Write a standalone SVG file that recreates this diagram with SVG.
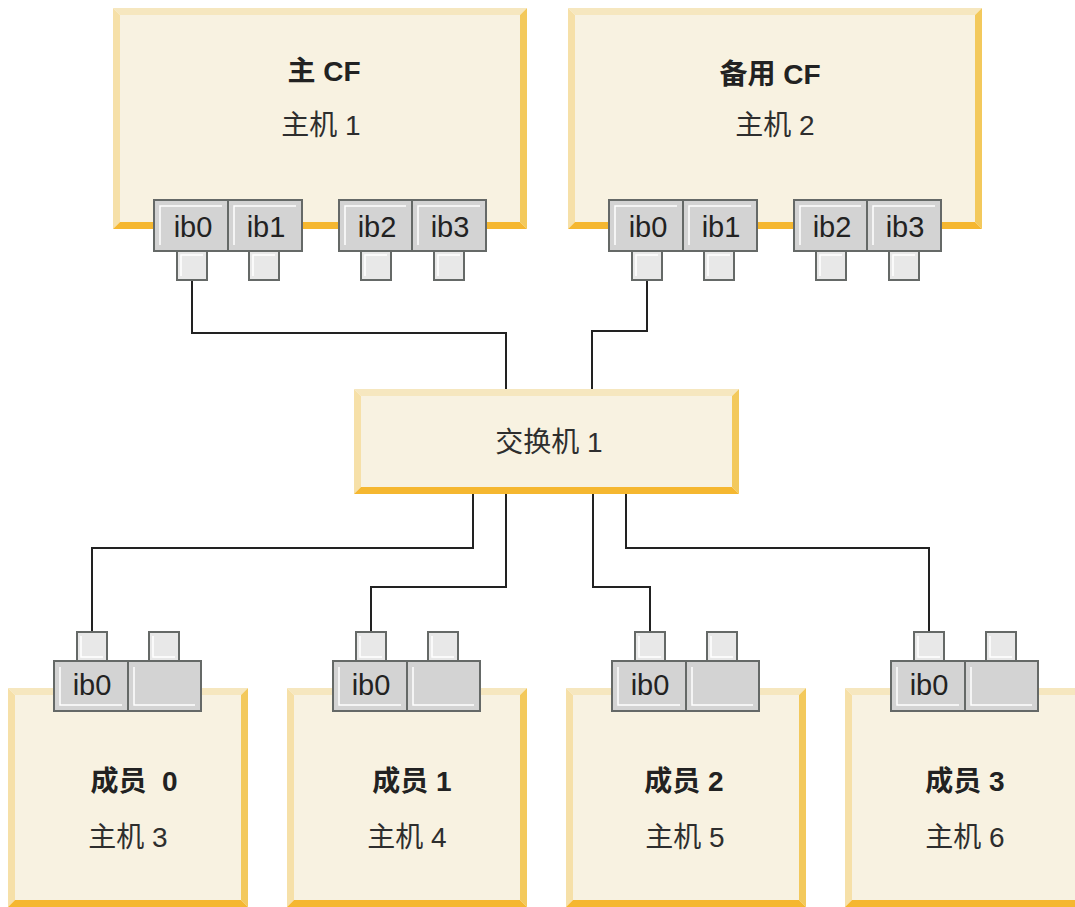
<svg xmlns="http://www.w3.org/2000/svg" width="1075" height="907" viewBox="0 0 1075 907">
<style>
.bt{fill:#f6e7bf}.bl{fill:#f6e0a8}.br{fill:#f3c95c}.bb{fill:#f5b730}.in{fill:#f8f2e1}
.port{fill:#d3d3d3;stroke:#656967;stroke-width:2}
.plug{fill:#e8e8e8;stroke:#656967;stroke-width:2}
.hl{fill:none;stroke:#ffffff;stroke-width:1.5}
.wire{fill:none;stroke:#222;stroke-width:2}
text{font-family:"Liberation Sans","Noto Sans CJK SC",sans-serif;text-anchor:middle;fill:#2e2e2e}
.t{font-size:28px;font-weight:bold;fill:#222;white-space:pre}
.s{font-size:28px}
.p{font-size:29px;fill:#222}
</style>
<rect width="1075" height="907" fill="#ffffff"/>
<g id="connectors">
<path class="wire" d="M192,280 V333 H506 V389"/>
<path class="wire" d="M647,280 V331 H592 V389"/>
<path class="wire" d="M473,494 V548 H92 V632"/>
<path class="wire" d="M506,494 V587 H371 V632"/>
<path class="wire" d="M593,494 V587 H650 V632"/>
<path class="wire" d="M626,494 V548 H929 V632"/>
</g>
<g id="cf-primary" transform="translate(113,8)">
<polygon class="bt" points="0,0 414,0 407,7 7,7"/>
<polygon class="bl" points="0,0 7,7 7,214 0,221"/>
<polygon class="br" points="414,0 414,221 407,214 407,7"/>
<polygon class="bb" points="0,221 7,214 407,214 414,221"/>
<rect class="in" x="7" y="7" width="400" height="207"/>
<text class="t" x="211" y="73">主 CF</text>
<text class="s" x="208" y="127">主机 1</text>
<g id="cf1-ports">
<rect class="plug" x="64" y="243" width="30" height="29"/><path class="hl" d="M68,268 V247 H90"/>
<rect class="plug" x="136" y="243" width="30" height="29"/><path class="hl" d="M140,268 V247 H162"/>
<rect class="plug" x="248" y="243" width="30" height="29"/><path class="hl" d="M252,268 V247 H274"/>
<rect class="plug" x="321" y="243" width="30" height="29"/><path class="hl" d="M325,268 V247 H347"/>
<rect class="port" x="41" y="192" width="74" height="51"/><path class="hl" d="M47,237 V198 H109"/>
<rect class="port" x="115" y="192" width="74" height="51"/><path class="hl" d="M121,237 V198 H183"/>
<rect class="port" x="226" y="192" width="73" height="51"/><path class="hl" d="M232,237 V198 H293"/>
<rect class="port" x="299" y="192" width="74" height="51"/><path class="hl" d="M305,237 V198 H367"/>
<text class="p" x="80" y="229">ib0</text>
<text class="p" x="153" y="229">ib1</text>
<text class="p" x="264" y="229">ib2</text>
<text class="p" x="337" y="229">ib3</text>
</g>
</g>
<g id="cf-standby" transform="translate(568,8)">
<polygon class="bt" points="0,0 414,0 407,7 7,7"/>
<polygon class="bl" points="0,0 7,7 7,214 0,221"/>
<polygon class="br" points="414,0 414,221 407,214 407,7"/>
<polygon class="bb" points="0,221 7,214 407,214 414,221"/>
<rect class="in" x="7" y="7" width="400" height="207"/>
<text class="t" x="202" y="76">备用 CF</text>
<text class="s" x="207" y="127">主机 2</text>
<g id="cf2-ports">
<rect class="plug" x="64" y="243" width="30" height="29"/><path class="hl" d="M68,268 V247 H90"/>
<rect class="plug" x="136" y="243" width="30" height="29"/><path class="hl" d="M140,268 V247 H162"/>
<rect class="plug" x="248" y="243" width="30" height="29"/><path class="hl" d="M252,268 V247 H274"/>
<rect class="plug" x="321" y="243" width="30" height="29"/><path class="hl" d="M325,268 V247 H347"/>
<rect class="port" x="41" y="192" width="74" height="51"/><path class="hl" d="M47,237 V198 H109"/>
<rect class="port" x="115" y="192" width="74" height="51"/><path class="hl" d="M121,237 V198 H183"/>
<rect class="port" x="226" y="192" width="73" height="51"/><path class="hl" d="M232,237 V198 H293"/>
<rect class="port" x="299" y="192" width="74" height="51"/><path class="hl" d="M305,237 V198 H367"/>
<text class="p" x="80" y="229">ib0</text>
<text class="p" x="153" y="229">ib1</text>
<text class="p" x="264" y="229">ib2</text>
<text class="p" x="337" y="229">ib3</text>
</g>
</g>
<g id="switch1" transform="translate(354,389)">
<polygon class="bt" points="0,0 385,0 378,7 7,7"/>
<polygon class="bl" points="0,0 7,7 7,98 0,105"/>
<polygon class="br" points="385,0 385,105 378,98 378,7"/>
<polygon class="bb" points="0,105 7,98 378,98 385,105"/>
<rect class="in" x="7" y="7" width="371" height="91"/>
<text class="s" x="195" y="63">交换机 1</text>
</g>
<g id="member0" transform="translate(8,688)">
<polygon class="bt" points="0,0 240,0 233,7 7,7"/>
<polygon class="bl" points="0,0 7,7 7,212 0,219"/>
<polygon class="br" points="240,0 240,219 233,212 233,7"/>
<polygon class="bb" points="0,219 7,212 233,212 240,219"/>
<rect class="in" x="7" y="7" width="226" height="205"/>
<rect class="plug" x="69" y="-56" width="30" height="29"/><path class="hl" d="M73,-52 V-31 H95"/>
<rect class="plug" x="141" y="-56" width="30" height="29"/><path class="hl" d="M145,-52 V-31 H167"/>
<rect class="port" x="46" y="-27" width="74" height="50"/><path class="hl" d="M52,-21 V17 H114"/>
<rect class="port" x="120" y="-27" width="73" height="50"/><path class="hl" d="M126,-21 V17 H187"/>
<text class="p" x="84" y="7">ib0</text>
<text class="t" x="126" y="103">成员  0</text>
<text class="s" x="120" y="159">主机 3</text>
</g>
<g id="member1" transform="translate(287,688)">
<polygon class="bt" points="0,0 240,0 233,7 7,7"/>
<polygon class="bl" points="0,0 7,7 7,212 0,219"/>
<polygon class="br" points="240,0 240,219 233,212 233,7"/>
<polygon class="bb" points="0,219 7,212 233,212 240,219"/>
<rect class="in" x="7" y="7" width="226" height="205"/>
<rect class="plug" x="69" y="-56" width="30" height="29"/><path class="hl" d="M73,-52 V-31 H95"/>
<rect class="plug" x="141" y="-56" width="30" height="29"/><path class="hl" d="M145,-52 V-31 H167"/>
<rect class="port" x="46" y="-27" width="74" height="50"/><path class="hl" d="M52,-21 V17 H114"/>
<rect class="port" x="120" y="-27" width="73" height="50"/><path class="hl" d="M126,-21 V17 H187"/>
<text class="p" x="84" y="7">ib0</text>
<text class="t" x="125" y="103">成员 1</text>
<text class="s" x="120" y="159">主机 4</text>
</g>
<g id="member2" transform="translate(566,688)">
<polygon class="bt" points="0,0 240,0 233,7 7,7"/>
<polygon class="bl" points="0,0 7,7 7,212 0,219"/>
<polygon class="br" points="240,0 240,219 233,212 233,7"/>
<polygon class="bb" points="0,219 7,212 233,212 240,219"/>
<rect class="in" x="7" y="7" width="226" height="205"/>
<rect class="plug" x="69" y="-56" width="30" height="29"/><path class="hl" d="M73,-52 V-31 H95"/>
<rect class="plug" x="141" y="-56" width="30" height="29"/><path class="hl" d="M145,-52 V-31 H167"/>
<rect class="port" x="46" y="-27" width="74" height="50"/><path class="hl" d="M52,-21 V17 H114"/>
<rect class="port" x="120" y="-27" width="73" height="50"/><path class="hl" d="M126,-21 V17 H187"/>
<text class="p" x="84" y="7">ib0</text>
<text class="t" x="118" y="103">成员 2</text>
<text class="s" x="119" y="159">主机 5</text>
</g>
<g id="member3" transform="translate(845,688)">
<polygon class="bt" points="0,0 240,0 233,7 7,7"/>
<polygon class="bl" points="0,0 7,7 7,212 0,219"/>
<polygon class="br" points="240,0 240,219 233,212 233,7"/>
<polygon class="bb" points="0,219 7,212 233,212 240,219"/>
<rect class="in" x="7" y="7" width="226" height="205"/>
<rect class="plug" x="69" y="-56" width="30" height="29"/><path class="hl" d="M73,-52 V-31 H95"/>
<rect class="plug" x="141" y="-56" width="30" height="29"/><path class="hl" d="M145,-52 V-31 H167"/>
<rect class="port" x="46" y="-27" width="74" height="50"/><path class="hl" d="M52,-21 V17 H114"/>
<rect class="port" x="120" y="-27" width="73" height="50"/><path class="hl" d="M126,-21 V17 H187"/>
<text class="p" x="84" y="7">ib0</text>
<text class="t" x="120" y="103">成员 3</text>
<text class="s" x="120" y="159">主机 6</text>
</g>
</svg>
